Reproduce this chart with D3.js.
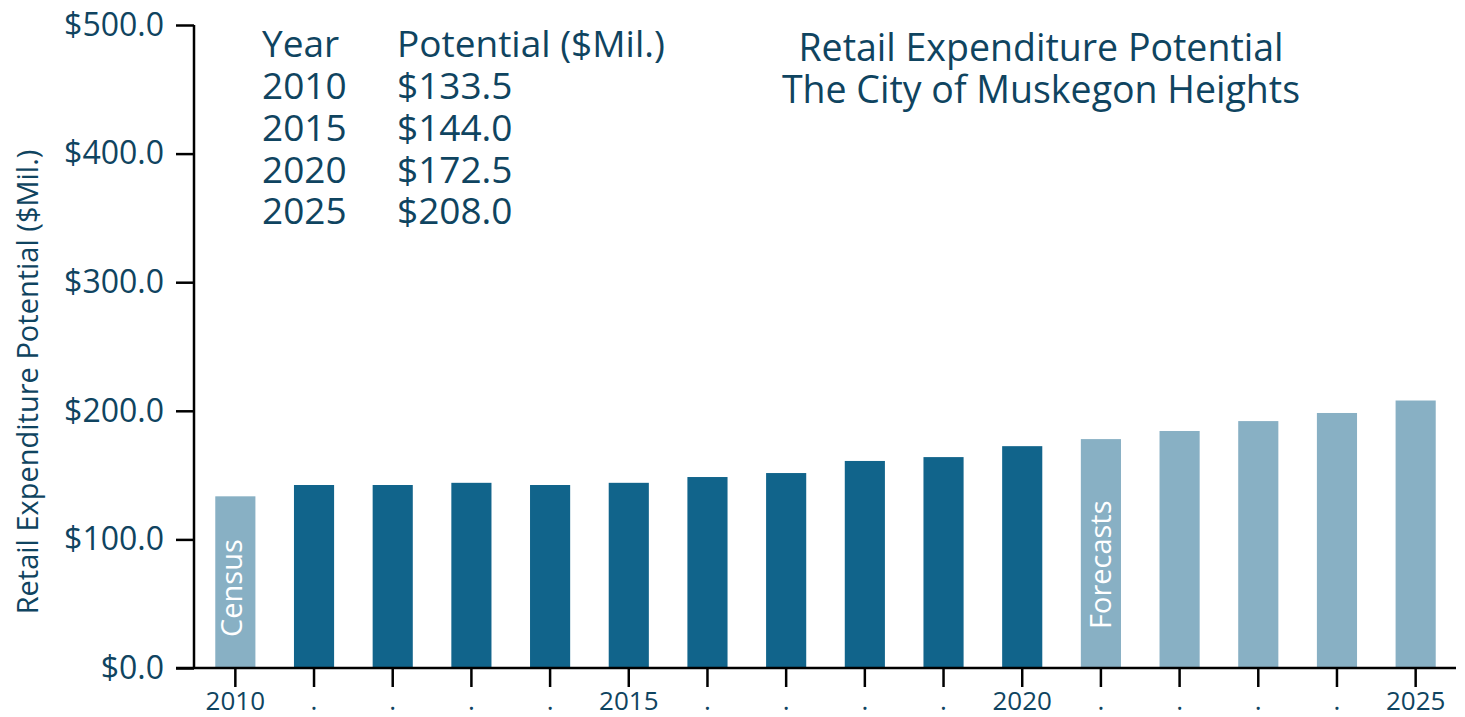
<!DOCTYPE html>
<html>
<head>
<meta charset="utf-8">
<script src="https://cdn.jsdelivr.net/npm/d3@7"></script>
<style>
  html, body { margin: 0; padding: 0; background: #fff; }
  svg { display: block; }
  text { font-family: "Open Sans", "Noto Sans", sans-serif; }
</style>
</head>
<body>
<svg id="chart" width="1465" height="717"></svg>
<script>
const years = [2010, 2011, 2012, 2013, 2014, 2015, 2016, 2017, 2018, 2019, 2020, 2021, 2022, 2023, 2024, 2025];
const values = [133.5, 142.3, 142.3, 144.0, 142.3, 144.0, 148.5, 151.6, 161.0, 164.0, 172.5, 178.0, 184.3, 192.0, 198.3, 208.0];
const kinds = ["census", "est", "est", "est", "est", "est", "est", "est", "est", "est", "est", "forecast", "forecast", "forecast", "forecast", "forecast"];
const xTickLabels = ["2010", ".", ".", ".", ".", "2015", ".", ".", ".", ".", "2020", ".", ".", ".", ".", "2025"];
const yTicks = [0, 100, 200, 300, 400, 500];
const tableYears = ["2010", "2015", "2020", "2025"];
const tableValues = ["$133.5", "$144.0", "$172.5", "$208.0"];
const titleLines = ["Retail Expenditure Potential", "The City of Muskegon Heights"];

const textColor = "#0f4460";
const darkBar = "#11648b";
const lightBar = "#88b0c4";

const svg = d3.select("#chart");
const M = { left: 194, right: 1456, top: 25, bottom: 668 };

const x = d3.scaleBand().domain(years).range([196, 1455]).paddingInner(0.49).paddingOuter(0.245);
const y = d3.scaleLinear().domain([0, 500]).range([M.bottom, M.top]);

// bars
svg.append("g").selectAll("rect").data(years).join("rect")
  .attr("x", d => x(d))
  .attr("width", x.bandwidth())
  .attr("y", (d, i) => y(values[i]))
  .attr("height", (d, i) => y(0) - y(values[i]))
  .attr("fill", (d, i) => kinds[i] === "est" ? darkBar : lightBar);

// y axis
const yAxis = svg.append("g").attr("transform", `translate(${M.left},0)`)
  .call(d3.axisLeft(y).tickValues(yTicks).tickSize(18).tickPadding(12).tickFormat(d => "$" + d3.format(".1f")(d)));
yAxis.select(".domain").attr("stroke", "#000").attr("stroke-width", 2.5).attr("d", `M0,${M.top}V${M.bottom}`);
yAxis.selectAll(".tick line").attr("stroke", "#000").attr("stroke-width", 2.5);
yAxis.selectAll(".tick text").attr("fill", textColor).style("font-size", "32px").style("font-family", "'Open Sans', sans-serif");

// x axis
const xAxis = svg.append("g").attr("transform", `translate(0,${M.bottom})`)
  .call(d3.axisBottom(x).tickSize(19).tickPadding(5).tickFormat((d, i) => xTickLabels[i]));
xAxis.select(".domain").attr("stroke", "#000").attr("stroke-width", 2.5).attr("d", `M176,0H${M.right}`);
xAxis.selectAll(".tick line").attr("stroke", "#000").attr("stroke-width", 2.5);
xAxis.selectAll(".tick text").attr("fill", textColor).style("font-size", "26px").style("font-family", "'Open Sans', sans-serif");

// y axis title
svg.append("text")
  .attr("transform", `translate(38,${382}) rotate(-90)`)
  .attr("text-anchor", "middle")
  .attr("fill", textColor)
  .style("font-size", "29px")
  .text("Retail Expenditure Potential ($Mil.)");

// in-bar labels
const barLabels = [{i: 0, text: "Census", base: 637, dx: 7}, {i: 11, text: "Forecasts", base: 629, dx: 10}];
svg.append("g").selectAll("text").data(barLabels).join("text")
  .attr("transform", d => `translate(${x(years[d.i]) + x.bandwidth() / 2 + d.dx},${d.base}) rotate(-90)`)
  .attr("fill", "#fff")
  .style("font-size", "29px")
  .text(d => d.text);

// table
const tbl = svg.append("g").attr("fill", textColor).style("font-size", "37px");
tbl.append("text").attr("x", 262).attr("y", 57).text("Year");
tbl.append("text").attr("x", 397).attr("y", 57).text("Potential ($Mil.)");
tableYears.forEach((t, i) => {
  tbl.append("text").attr("x", 262).attr("y", 99 + i * 41.8).text(t);
  tbl.append("text").attr("x", 397).attr("y", 99 + i * 41.8).text(tableValues[i]);
});

// title
svg.append("g").selectAll("text").data(titleLines).join("text")
  .attr("x", 1041)
  .attr("y", (d, i) => 61 + i * 42)
  .attr("text-anchor", "middle")
  .attr("fill", textColor)
  .style("font-size", "37.5px")
  .text(d => d);
</script>
</body>
</html>
